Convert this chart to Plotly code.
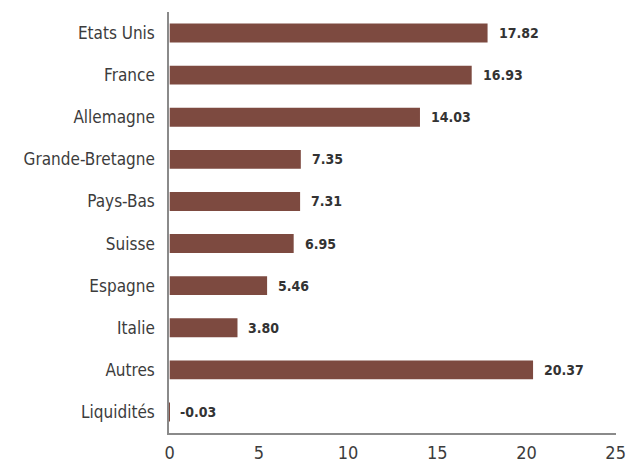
import plotly.graph_objects as go

categories = ["Etats Unis", "France", "Allemagne", "Grande-Bretagne", "Pays-Bas",
              "Suisse", "Espagne", "Italie", "Autres", "Liquidités"]
values = [17.82, 16.93, 14.03, 7.35, 7.31, 6.95, 5.46, 3.80, 20.37, -0.03]
labels = ["17.82", "16.93", "14.03", "7.35", "7.31", "6.95", "5.46", "3.80", "20.37", "-0.03"]
x_ticks = [0, 5, 10, 15, 20, 25]

FONT = "DejaVu Sans Condensed, Liberation Sans Narrow, sans-serif"

fig = go.Figure(go.Bar(
    y=categories, x=values, orientation="h",
    marker=dict(color="#7d4a40", line=dict(width=0)),
    width=0.45,
))

for c, v, t in zip(categories, values, labels):
    fig.add_annotation(x=v, y=c, text="<b>%s</b>" % t, showarrow=False,
                       xanchor="left", xshift=9,
                       font=dict(family=FONT, size=14, color="#333333"))

fig.update_layout(
    width=626, height=473,
    margin=dict(l=169, r=10, t=12, b=40),
    paper_bgcolor="white", plot_bgcolor="white",
    showlegend=False,
    font=dict(family=FONT, size=17, color="#3c3c3c"),
    xaxis=dict(range=[-0.04, 25.02], tickvals=x_ticks, showgrid=False, zeroline=False,
               showline=True, linecolor="#8a8a8a", linewidth=1.5, ticks="",
               automargin=False, ticklabeloverflow="allow",
               ticklabelstandoff=3, tickfont=dict(size=18, color="#3c3c3c")),
    yaxis=dict(autorange=False, range=[9.5, -0.5], categoryorder="array",
               categoryarray=categories, showgrid=False, zeroline=False,
               showline=True, linecolor="#8a8a8a", linewidth=1.5, ticks="",
               automargin=False,
               ticklabelstandoff=9, tickfont=dict(size=17, color="#3c3c3c")),
)

fig.write_html("out.html", config={"displayModeBar": False},
               post_script="document.body.style.margin='0px';document.body.style.overflow='hidden';")
